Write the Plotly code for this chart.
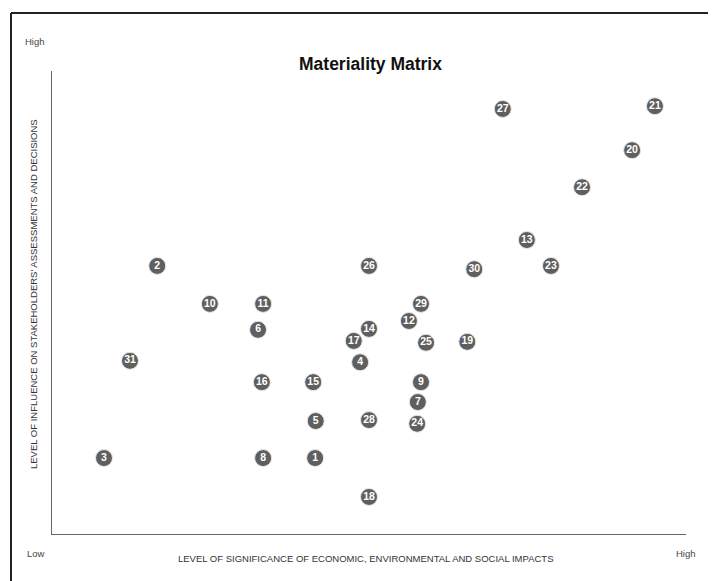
import plotly.graph_objects as go

# Issue IDs and their positions (0-100 scale on both axes)
labels = [str(i) for i in range(1, 32)]
significance = [41.5, 16.6, 8.2, 48.6, 41.6, 32.5, 57.7, 33.3, 58.2, 24.9,
                33.3, 56.3, 74.9, 50.0, 41.2, 33.1, 47.6, 50.0, 65.5, 91.5,
                95.1, 83.6, 78.7, 57.6, 59.0, 50.0, 71.1, 50.0, 58.2, 66.6, 12.3]
influence = [16.4, 57.9, 16.4, 37.1, 24.4, 44.1, 28.5, 16.4, 32.8, 49.7,
             49.7, 46.0, 63.5, 44.3, 32.8, 32.8, 41.7, 8.0, 41.5, 82.9,
             92.4, 74.9, 57.9, 23.8, 41.3, 57.9, 91.8, 24.6, 49.7, 57.2, 37.4]

FONT = "Liberation Sans, Arial, sans-serif"

fig = go.Figure()
fig.add_trace(go.Scatter(
    x=significance, y=influence, mode="markers+text",
    text=labels, textposition="middle center",
    textfont=dict(family=FONT, size=10.5, color="white", weight="bold"),
    marker=dict(size=17, color="#5f5f5f", line=dict(color="#e8e8e8", width=1)),
    hoverinfo="skip", showlegend=False, cliponaxis=False,
))

OFF = 8  # page offset of the figure in the screenshot
W, H = 716 - OFF, 581 - OFF
L, T = 52 - OFF, 71 - OFF
R, B = 30, 47
pw, ph = W - L - R, H - T - B

def px(x):
    return (x - OFF - L) / pw

def py(y):
    return (H - B - (y - OFF)) / ph

annos = [
    dict(text="<b>Materiality Matrix</b>", x=px(370), y=py(64), font=dict(size=17.5, color="#111")),
    dict(text="High", x=px(35), y=py(42), font=dict(size=9.5, color="#444")),
    dict(text="Low", x=px(36), y=py(553), font=dict(size=9.5, color="#444")),
    dict(text="High", x=px(686), y=py(553), font=dict(size=9.5, color="#444")),
    dict(text="LEVEL OF SIGNIFICANCE OF ECONOMIC, ENVIRONMENTAL AND SOCIAL IMPACTS",
         x=px(365), y=py(558), font=dict(size=9.5, color="#333")),
    dict(text="LEVEL OF INFLUENCE ON STAKEHOLDERS' ASSESSMENTS AND DECISIONS",
         x=px(33), y=py(294), textangle=-90, font=dict(size=9.5, color="#333")),
]
for a in annos:
    a.update(xref="paper", yref="paper", showarrow=False, xanchor="center", yanchor="middle")
    a["font"]["family"] = FONT

fig.update_layout(
    width=W, height=H,
    margin=dict(l=L, r=R, t=T, b=B),
    paper_bgcolor="white", plot_bgcolor="white",
    annotations=annos,
    xaxis=dict(range=[0, 100], showgrid=False, zeroline=False, showticklabels=False,
               ticks="", showline=True, linecolor="#666", linewidth=1, fixedrange=True),
    yaxis=dict(range=[0, 100], showgrid=False, zeroline=False, showticklabels=False,
               ticks="", showline=True, linecolor="#666", linewidth=1, fixedrange=True),
    shapes=[
        dict(type="line", xref="paper", yref="paper", x0=px(11), x1=px(720), y0=py(13), y1=py(13),
             line=dict(color="#222", width=2)),
        dict(type="line", xref="paper", yref="paper", x0=px(11), x1=px(11), y0=py(13), y1=py(590),
             line=dict(color="#222", width=2)),
    ],
)

fig.write_html("out.html")
